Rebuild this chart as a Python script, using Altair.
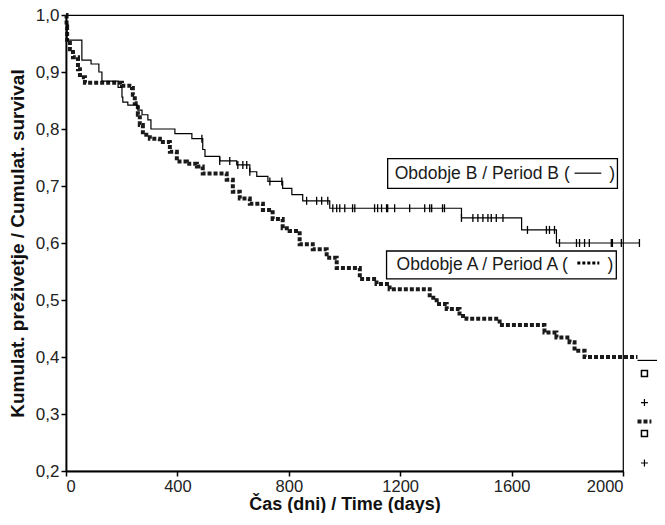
import altair as alt
import pandas as pd

# ---- Kaplan-Meier steps ----
# Period A (Obdobje A), thick dotted curve
a_time = [0, 2, 4, 14, 25, 43, 50, 68, 201, 237, 240, 247, 258, 265, 276, 301, 337, 373, 398, 434,
          470, 491, 577, 599, 624, 660, 707, 742, 778, 803, 839, 886, 936, 972, 1055, 1115, 1162,
          1306, 1331, 1367, 1413, 1438, 1557, 1718, 1761, 1808, 1826, 1862, 2052]
a_surv = [1.0, 0.98, 0.956, 0.94, 0.926, 0.905, 0.891, 0.881, 0.876, 0.872, 0.86, 0.845, 0.825, 0.807,
          0.79, 0.783, 0.777, 0.76, 0.743, 0.739, 0.734, 0.722, 0.711, 0.69, 0.678, 0.669, 0.658,
          0.642, 0.626, 0.621, 0.598, 0.589, 0.574, 0.556, 0.537, 0.528, 0.519, 0.504, 0.493, 0.484,
          0.472, 0.467, 0.456, 0.443, 0.434, 0.426, 0.411, 0.40, 0.40]
# thin tail of period A
a_tail_time = [2052, 2150]
a_tail_surv = [0.394, 0.394]

# Period B (Obdobje B), thin solid curve
b_time = [0, 2, 4, 57, 90, 118, 129, 187, 201, 204, 222, 258, 273, 294, 305, 391, 452, 491, 499,
          552, 613, 660, 685, 725, 778, 811, 850, 947, 1420, 1636, 1761, 2059]
b_surv = [1.0, 0.985, 0.956, 0.921, 0.914, 0.9, 0.884, 0.873, 0.856, 0.847, 0.842, 0.833, 0.825,
          0.816, 0.8, 0.792, 0.783, 0.764, 0.752, 0.744, 0.737, 0.725, 0.717, 0.708, 0.696, 0.685,
          0.674, 0.661, 0.644, 0.623, 0.6, 0.6]
# censored observations of period B
b_censor = [488, 552, 588, 617, 635, 649, 660, 732, 775, 864, 900, 918, 940, 958, 972, 983, 1001,
            1029, 1037, 1108, 1119, 1133, 1151, 1155, 1180, 1234, 1288, 1306, 1313, 1352, 1359, 1420,
            1461, 1479, 1497, 1515, 1527, 1545, 1569, 1657, 1725, 1736, 1754, 1772, 1833, 1844, 1862,
            1879, 1958, 1962, 1994, 2059]

x_ticks = [0, 400, 800, 1200, 1600, 2000]
y_ticks = [0.2, 0.3, 0.4, 0.5, 0.6, 0.7, 0.8, 0.9, 1.0]

# annotation boxes (data units)
box_t = [1155, 1151]
box_t2 = [1980, 1976]
box_s = [0.748, 0.586]
box_s2 = [0.696, 0.537]
lab_text = ["Obdobje B / Period B (", "Obdobje A / Period A ("]
lab_t = [1180, 1187]
lab_s = [0.7215, 0.5615]
close_t = [1951, 1944]
symB_t = [1826, 1922]
symB_s = [0.7225, 0.7225]
symA_t = [1836, 1915]
symA_s = [0.565, 0.565]

# stray legend symbols at bottom right
sq_t = [2077, 2077]
sq_s = [0.371, 0.266]
plus_t = [2077, 2077]
plus_s = [0.320, 0.214]
dot_t = [2052, 2102]
dot_s = [0.287, 0.287]

FONT = "Liberation Sans"


def surv_at(times, survs, t):
    v = survs[0]
    for tt, ss in zip(times, survs):
        if tt <= t:
            v = ss
    return v


dfA = pd.DataFrame({"t": a_time, "s": a_surv})
dfAt = pd.DataFrame({"t": a_tail_time, "s": a_tail_surv})
dfB = pd.DataFrame({"t": b_time, "s": b_surv})
dfC = pd.DataFrame({"t": b_censor, "s": [surv_at(b_time, b_surv, c) for c in b_censor]})
dfBox = pd.DataFrame({"t": box_t, "t2": box_t2, "s": box_s, "s2": box_s2})
dfLab = pd.DataFrame({"t": lab_t, "s": lab_s, "txt": lab_text})
dfClose = pd.DataFrame({"t": close_t, "s": lab_s, "txt": [")", ")"]})
dfSymB = pd.DataFrame({"t": symB_t, "s": symB_s})
dfSymA = pd.DataFrame({"t": symA_t, "s": symA_s})
dfSq = pd.DataFrame({"t": sq_t, "s": sq_s})
dfPlus = pd.DataFrame({"t": plus_t, "s": plus_s})
dfDot = pd.DataFrame({"t": dot_t, "s": dot_s})

xs = alt.Scale(domain=[0, 2000], nice=False, zero=False)
ys = alt.Scale(domain=[0.2, 1.0], nice=False, zero=False)

X = alt.X("t:Q", scale=xs, axis=alt.Axis(
    values=x_ticks, format="d", title="Čas (dni) / Time (days)",
    labelFontSize=16.5, labelPadding=2, titleFontSize=18, titleY=38,
    titleBaseline="alphabetic"))
Y = alt.Y("s:Q", scale=ys, axis=alt.Axis(
    values=y_ticks, labelExpr="replace(format(datum.value, '.1f'), '.', ',')",
    title="Kumulat. preživetje / Cumulat. survival",
    labelFontSize=17, labelPadding=2, titleFontSize=19, titlePadding=8))

lineA = alt.Chart(dfA).mark_line(interpolate="step-after", color="#1a1a1a", strokeWidth=4,
                                 strokeDash=[4, 2]).encode(x=X, y=Y)
tailA = alt.Chart(dfAt).mark_line(color="black", strokeWidth=1.2).encode(x=X, y=Y)
lineB = alt.Chart(dfB).mark_line(interpolate="step-after", color="black",
                                 strokeWidth=1.2).encode(x=X, y=Y)
censB = alt.Chart(dfC).mark_point(shape="M0,-1L0,1", size=64, filled=False, color="black",
                                  strokeWidth=1.3, opacity=1).encode(x=X, y=Y)
boxes = alt.Chart(dfBox).mark_rect(fill="white", stroke="black", strokeWidth=1.3).encode(
    x=X, x2=alt.X2("t2"), y=Y, y2=alt.Y2("s2"))
labels = alt.Chart(dfLab).mark_text(align="left", baseline="middle", font=FONT, fontSize=17.5,
                                    color="#1a1a1a").encode(x=X, y=Y, text="txt:N")
closes = alt.Chart(dfClose).mark_text(align="left", baseline="middle", font=FONT, fontSize=17.5,
                                      color="#1a1a1a").encode(x=X, y=Y, text="txt:N")
symB = alt.Chart(dfSymB).mark_line(color="black", strokeWidth=1.2).encode(x=X, y=Y)
symA = alt.Chart(dfSymA).mark_line(color="black", strokeWidth=3, strokeDash=[3, 2]).encode(x=X, y=Y)
sq = alt.Chart(dfSq).mark_point(shape="square", size=36, filled=False, color="black",
                                strokeWidth=1.5, opacity=1).encode(x=X, y=Y)
plus = alt.Chart(dfPlus).mark_point(shape="M-1,0L1,0M0,-1L0,1", size=49, filled=False,
                                    color="black", strokeWidth=1.2, opacity=1).encode(x=X, y=Y)
dot = alt.Chart(dfDot).mark_line(color="#1a1a1a", strokeWidth=4, strokeDash=[4, 2]).encode(x=X, y=Y)

chart = alt.layer(lineA, tailA, lineB, censB, boxes, labels, closes, symB, symA, sq, plus, dot).properties(
    width=557, height=456,
    padding={"left": 58, "top": 7, "right": 34, "bottom": 42},
    autosize=alt.AutoSizeParams(type="none"),
    background="white",
).configure_view(stroke="black", strokeWidth=1.2).configure_axis(
    grid=False, domainColor="black", domainWidth=1.8, tickColor="black", tickWidth=1.5,
    tickSize=5, labelFont=FONT, titleFont=FONT, labelColor="#222", titleColor="#111",
    titleFontWeight="bold",
)

chart.save("out.html", embed_options={"renderer": "svg", "actions": False})
